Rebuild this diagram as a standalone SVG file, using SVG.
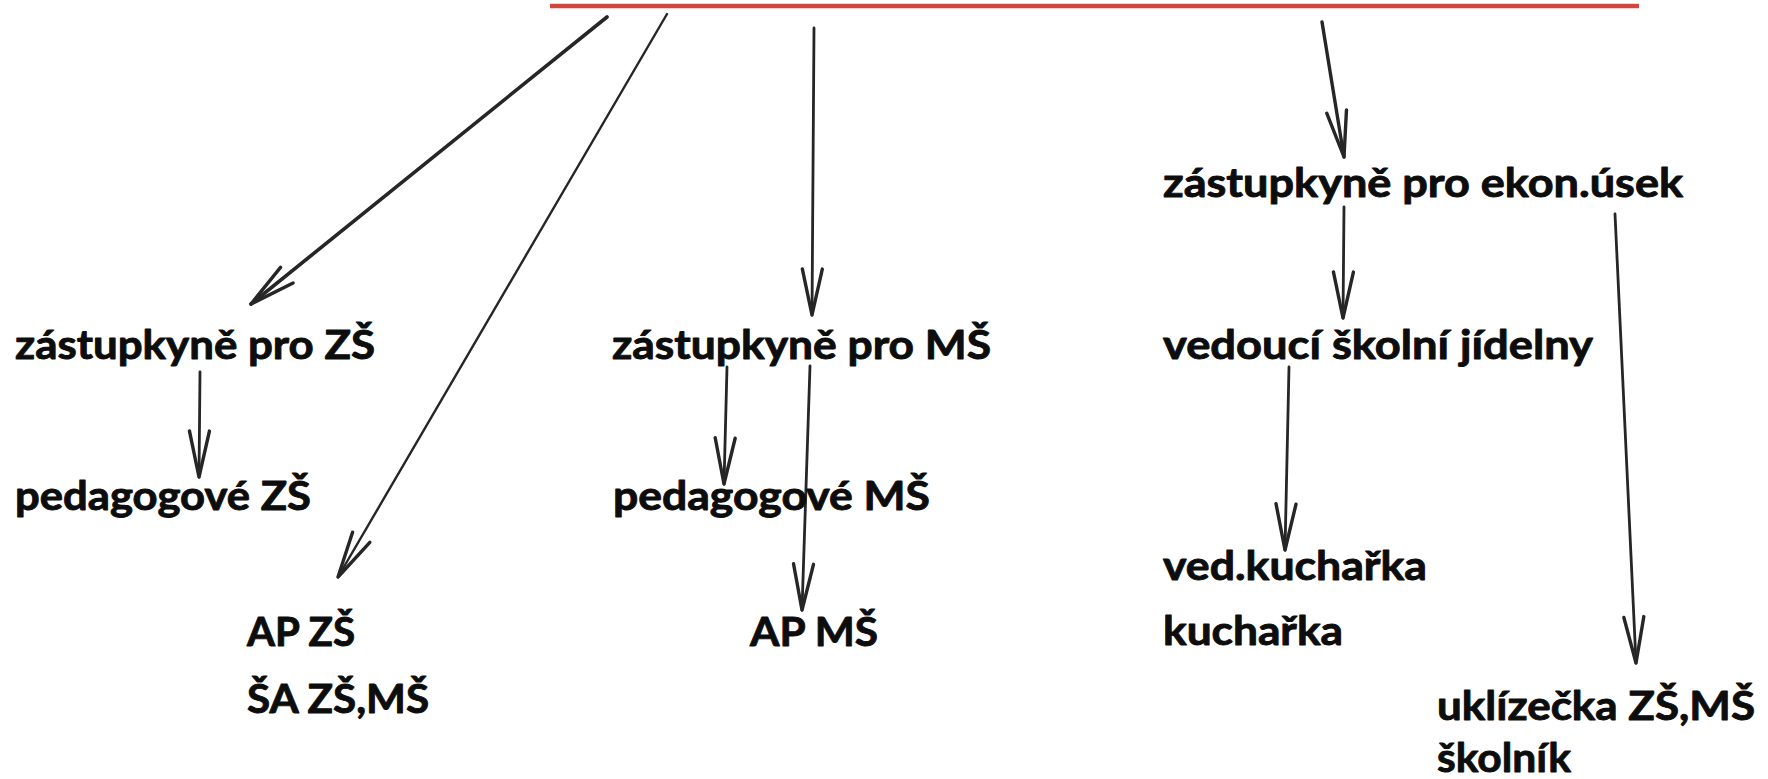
<svg xmlns="http://www.w3.org/2000/svg" width="1768" height="779" viewBox="0 0 1768 779">
<style>
.t{font-family:Lato,"Open Sans","Liberation Sans",sans-serif;font-weight:700;font-size:40px;fill:#0d0d0d;stroke:#0d0d0d;stroke-width:0.9;stroke-linejoin:round}
.c{fill:none;stroke:#262626;stroke-width:2.8;stroke-linecap:round}
</style>
<defs>
<marker id="v" markerUnits="userSpaceOnUse" markerWidth="60" markerHeight="30" viewBox="-50 -15 60 30" refX="0" refY="0" orient="auto">
<path d="M -46,-10 L 0,0 L -46,10" fill="none" stroke="#262626" stroke-width="3.4" stroke-linejoin="round" stroke-linecap="round"/>
</marker>
</defs>
<rect width="1768" height="779" fill="#ffffff"/>
<g id="top">
<line x1="550" y1="6" x2="1639" y2="6" stroke="#d2473c" stroke-width="4.5"/>
</g>
<g id="connectors">
<line class="c" x1="607" y1="17" x2="251" y2="304" style="stroke-width:3.6" marker-end="url(#v)"/>
<line class="c" x1="667" y1="14" x2="338" y2="577" style="stroke-width:2.4" marker-end="url(#v)"/>
<line class="c" x1="814" y1="28" x2="812" y2="315" marker-end="url(#v)"/>
<line class="c" x1="1322" y1="22" x2="1344" y2="157" style="stroke-width:3.4" marker-end="url(#v)"/>
<line class="c" x1="200" y1="372" x2="199" y2="477" marker-end="url(#v)"/>
<line class="c" x1="727" y1="367" x2="724" y2="484" marker-end="url(#v)"/>
<line class="c" x1="810" y1="366" x2="802" y2="610" marker-end="url(#v)"/>
<line class="c" x1="1344" y1="207" x2="1343" y2="318" marker-end="url(#v)"/>
<line class="c" x1="1289" y1="367" x2="1285" y2="550" marker-end="url(#v)"/>
<line class="c" x1="1615" y1="214" x2="1636" y2="663" marker-end="url(#v)"/>
</g>
<g id="n1"><text class="t" x="15" y="359" textLength="360" lengthAdjust="spacingAndGlyphs">zástupkyně pro ZŠ</text></g>
<g id="n2"><text class="t" x="15" y="510" textLength="296" lengthAdjust="spacingAndGlyphs">pedagogové ZŠ</text></g>
<g id="n3"><text class="t" x="247" y="646" textLength="108" lengthAdjust="spacingAndGlyphs">AP ZŠ</text><text class="t" x="247" y="713" textLength="182" lengthAdjust="spacingAndGlyphs">ŠA ZŠ,MŠ</text></g>
<g id="n4"><text class="t" x="612" y="359" textLength="379" lengthAdjust="spacingAndGlyphs">zástupkyně pro MŠ</text></g>
<g id="n5"><text class="t" x="613" y="510" textLength="317" lengthAdjust="spacingAndGlyphs">pedagogové MŠ</text></g>
<g id="n6"><text class="t" x="750" y="646" textLength="128" lengthAdjust="spacingAndGlyphs">AP MŠ</text></g>
<g id="n7"><text class="t" x="1163" y="197" textLength="520" lengthAdjust="spacingAndGlyphs">zástupkyně pro ekon.úsek</text></g>
<g id="n8"><text class="t" x="1163" y="359" textLength="430" lengthAdjust="spacingAndGlyphs">vedoucí školní jídelny</text></g>
<g id="n9"><text class="t" x="1163" y="580" textLength="264" lengthAdjust="spacingAndGlyphs">ved.kuchařka</text><text class="t" x="1163" y="645" textLength="180" lengthAdjust="spacingAndGlyphs">kuchařka</text></g>
<g id="n10"><text class="t" x="1437" y="720" textLength="318" lengthAdjust="spacingAndGlyphs">uklízečka ZŠ,MŠ</text><text class="t" x="1437" y="772" textLength="134" lengthAdjust="spacingAndGlyphs">školník</text></g>
</svg>
